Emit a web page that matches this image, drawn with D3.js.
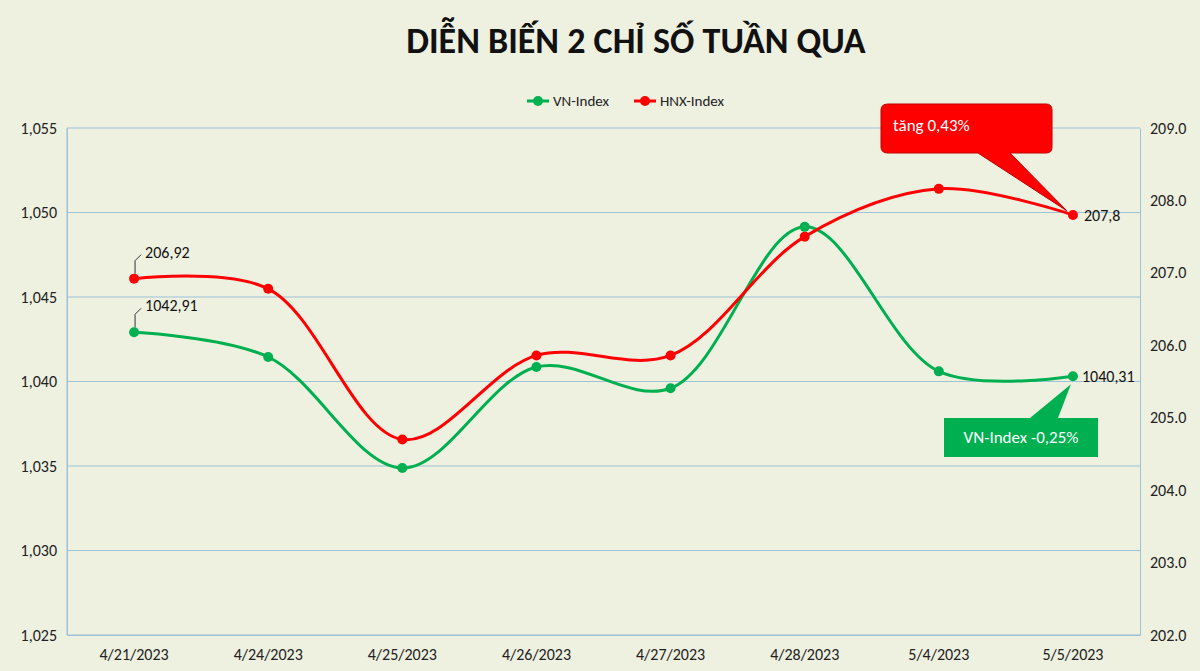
<!DOCTYPE html><html><head><meta charset="utf-8"><script src="https://cdn.jsdelivr.net/npm/d3@7"></script>
<style>body{margin:0;background:#EEF0E0}text{font-family:Calibri,Carlito,"Open Sans",sans-serif}</style></head><body>
<svg id="c" width="1200" height="671"></svg>
<script>
const dates=["4/21/2023","4/24/2023","4/25/2023","4/26/2023","4/27/2023","4/28/2023","5/4/2023","5/5/2023"];
const vnIndex=[1042.91,1041.45,1034.88,1040.86,1039.6,1049.15,1040.6,1040.31];
const hnxIndex=[206.92,206.78,204.7,205.86,205.86,207.5,208.16,207.8];
const leftTicks=[1025,1030,1035,1040,1045,1050,1055];
const rightTicks=[202,203,204,205,206,207,208,209];
const svg=d3.select("#c");
svg.append("rect").attr("width",1200).attr("height",671).attr("fill","#EEF0E0");
const L=67,R=1140,T=128,B=635;
const x=d3.scaleBand().domain(dates).range([L,R]);
const cx=d=>x(d)+x.bandwidth()/2;
const yL=d3.scaleLinear().domain([1025,1055]).range([B,T]);
const yR=d3.scaleLinear().domain([202,209]).range([B,T]);
// grid
svg.append("g").selectAll("line").data(leftTicks).join("line").attr("x1",L).attr("x2",R).attr("y1",d=>yL(d)).attr("y2",d=>yL(d)).attr("stroke","#9DC3D9").attr("stroke-width",1);
const ax=svg.append("g").attr("transform",`translate(${L},0)`).call(d3.axisLeft(yL).tickValues(leftTicks).tickSize(0).tickPadding(10));
const ar=svg.append("g").attr("transform",`translate(${R},0)`).call(d3.axisRight(yR).tickValues(rightTicks).tickSize(0).tickPadding(10));
const ab=svg.append("g").attr("transform",`translate(0,${B})`).call(d3.axisBottom(x).tickSize(0).tickPadding(14));
[ax,ar,ab].forEach(a=>{a.selectAll("path").attr("stroke","#9DC3D9");a.selectAll("text").attr("font-size",16).attr("fill","#222");});
svg.append("line").attr("x1",L).attr("x2",L).attr("y1",T).attr("y2",B).attr("stroke","#9DC3D9");
const curve=d3.curveCatmullRom.alpha(0.5);
function series(vals,y,col){
 svg.append("path").attr("d",d3.line().x((d,i)=>cx(dates[i])).y(d=>y(d)).curve(curve)(vals)).attr("fill","none").attr("stroke",col).attr("stroke-width",3);
 svg.append("g").selectAll("circle").data(vals).join("circle").attr("cx",(d,i)=>cx(dates[i])).attr("cy",d=>y(d)).attr("r",5).attr("fill",col);
}
series(vnIndex,yL,"#00B050");
series(hnxIndex,yR,"#FF0000");
svg.append("text").attr("x",636).attr("y",53).attr("text-anchor","middle").attr("font-size",36).attr("font-weight","bold").attr("fill","#111").text("DIỄN BIẾN 2 CHỈ SỐ TUẦN QUA");
// legend
const lg=[["VN-Index","#00B050",527],["HNX-Index","#FF0000",634]];
lg.forEach(([n,c,lx])=>{svg.append("line").attr("x1",lx).attr("x2",lx+22).attr("y1",101).attr("y2",101).attr("stroke",c).attr("stroke-width",3);
svg.append("circle").attr("cx",lx+11).attr("cy",101).attr("r",5).attr("fill",c);
svg.append("text").attr("x",lx+26).attr("y",106).attr("font-size",15).attr("fill","#222").text(n);});
// labels
const x0=cx(dates[0]),x7=cx(dates[7]);
function lead(px,py,t){svg.append("path").attr("d",`M${px+1},${py-5}L${px+1},${py-18}L${px+7},${py-24}`).attr("stroke","#333").attr("fill","none");
svg.append("text").attr("x",px+11).attr("y",py-21).attr("font-size",16).attr("fill","#111").text(t);}
lead(x0,yR(hnxIndex[0]),"206,92");
lead(x0,yL(vnIndex[0]),"1042,91");
svg.append("text").attr("x",x7+11).attr("y",yR(hnxIndex[7])+6).attr("font-size",16).attr("fill","#111").text("207,8");
svg.append("text").attr("x",x7+9).attr("y",yL(vnIndex[7])+6).attr("font-size",16).attr("fill","#111").text("1040,31");
// callouts
const hy=yR(hnxIndex[7]),vy=yL(vnIndex[7]);
svg.append("path").attr("d",`M888,104H1046Q1052,104 1052,110V147Q1052,153 1046,153H1010L${x7-6},${hy-4}L978,153H888Q881,153 881,147V110Q881,104 888,104Z`).attr("fill","#FF0000").attr("stroke","#C00000");
svg.append("text").attr("x",893).attr("y",131).attr("font-size",17).attr("fill","#fff").text("tăng 0,43%");
svg.append("path").attr("d",`M944,418H1030L${x7-2},${vy+8}L1058,418H1098V457H944Z`).attr("fill","#00B050");
svg.append("text").attr("x",1021).attr("y",443).attr("text-anchor","middle").attr("font-size",17).attr("fill","#fff").text("VN-Index  -0,25%");
</script></body></html>
